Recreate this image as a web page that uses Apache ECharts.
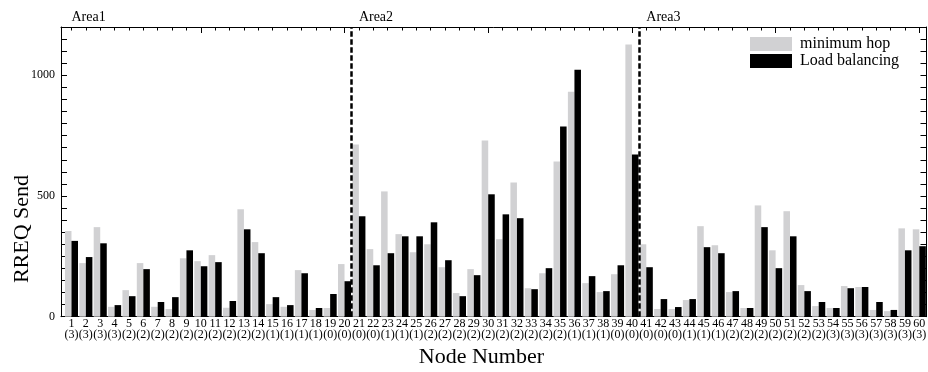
<!DOCTYPE html>
<html>
<head>
<meta charset="utf-8">
<script src="https://cdn.jsdelivr.net/npm/echarts@6/dist/echarts.min.js"></script>
<style>
html,body{margin:0;padding:0;background:#fff;}
#c{width:928px;height:372px;}
</style>
</head>
<body>
<div id="c"></div>
<script>
const nodes = ['1','2','3','4','5','6','7','8','9','10','11','12','13','14','15','16','17','18','19','20',
  '21','22','23','24','25','26','27','28','29','30','31','32','33','34','35','36','37','38','39','40',
  '41','42','43','44','45','46','47','48','49','50','51','52','53','54','55','56','57','58','59','60'];
const hops = [3,3,3,3,2,2,2,2,2,2,2,2,2,2,1,1,1,1,0,0,
  0,0,1,1,1,2,2,2,2,2,2,2,2,2,2,1,1,1,0,0,
  0,0,0,1,1,1,2,2,2,2,2,2,2,3,3,3,3,3,3,3];
const minimumHop = [355,222,371,41,110,222,41,32,242,230,255,37,445,309,52,41,193,28,36,218,
  713,280,519,342,267,300,205,98,197,730,321,556,118,180,643,932,139,102,176,1127,
  300,32,32,69,375,296,102,36,461,275,437,131,44,36,127,123,28,23,366,362];
const loadBalancing = [314,247,304,48,85,197,61,81,275,209,226,65,362,263,81,48,180,36,94,147,
  416,213,263,333,333,391,234,85,172,507,424,408,114,201,788,1023,168,106,213,672,
  205,73,40,73,288,263,106,36,371,201,333,106,61,36,118,123,61,28,275,292];
const areaNames = ['Area1','Area2','Area3'];
const areaStartNode = [1,21,41];
const areaDividers = [20.5,40.5];
const yTickLabels = [0,500,1000];

const FONT = '"Liberation Serif", "Times New Roman", serif';
const W = 928;
const GL = 64.3, GR = 1.5, GT = 27, GB = 55.3;
const FRAME_L = 61;
const N = nodes.length;
const catW = (W - GL - GR) / N;
// grid whose value x-axis puts node k at the centre of category k
const cL = GL + catW / 2, cR = GR + catW / 2;
// grid for the long ticks (every 10th node)
const tL = GL + catW * 9.5;

const chart = echarts.init(document.getElementById('c'), null, {renderer:'canvas'});
const axisLine = {show:true, onZero:false, lineStyle:{color:'#000', width:1}};
const noLine = {show:false, onZero:false};
const hidden = {show:false};

chart.setOption({
  animation:false,
  backgroundColor:'#fff',
  grid:[
    {left:GL, right:GR, top:GT, bottom:GB, outerBoundsMode:'none', containLabel:false},
    {left:cL, right:cR, top:GT, bottom:GB, outerBoundsMode:'none', containLabel:false},
    {left:tL, right:cR, top:GT, bottom:GB, outerBoundsMode:'none', containLabel:false},
    {left:FRAME_L, right:GR, top:GT, bottom:GB, outerBoundsMode:'none', containLabel:false}
  ],
  legend:{
    orient:'vertical', left:745, top:31,
    itemWidth:42, itemHeight:14, itemGap:1,
    icon:'rect',
    data:['minimum hop','Load balancing'],
    textStyle:{fontFamily:FONT, fontSize:16, color:'#000', padding:[0,0,0,3]}
  },
  xAxis:[
    {type:'category', data:nodes, position:'bottom', gridIndex:0,
     axisLine:noLine, axisTick:{show:false},
     axisLabel:{interval:0, margin:2, fontFamily:FONT, fontSize:12, lineHeight:11, color:'#000',
       formatter:(v, i) => v + '\n(' + hops[i] + ')'},
     name:'Node Number', nameLocation:'middle', nameGap:30,
     nameTextStyle:{fontFamily:FONT, fontSize:22, color:'#000', padding:[0,28,0,0]}},
    {type:'value', min:0, max:1, position:'top', gridIndex:3,
     axisLine:axisLine, axisTick:hidden, axisLabel:hidden, splitLine:hidden},
    {type:'value', min:1, max:N, interval:1, position:'top', gridIndex:1,
     axisLine:noLine, splitLine:hidden,
     axisTick:{show:true, inside:true, length:3.5, lineStyle:{color:'#000'}},
     axisLabel:{show:true, margin:3, align:'left', fontFamily:FONT, fontSize:14, color:'#000',
       showMinLabel:true, showMaxLabel:true,
       formatter:(v) => { const k = areaStartNode.indexOf(v); return k >= 0 ? areaNames[k] : ''; }}},
    {type:'value', min:10, max:N, interval:10, position:'top', gridIndex:2,
     axisLine:noLine, splitLine:hidden, axisLabel:hidden,
     axisTick:{show:true, inside:true, length:6, lineStyle:{color:'#000'}}},
    {type:'value', min:0, max:1, position:'bottom', gridIndex:3,
     axisLine:axisLine, axisTick:hidden, axisLabel:hidden, splitLine:hidden}
  ],
  yAxis:[
    {type:'value', min:0, max:1200, interval:50, offset:GL - FRAME_L, position:'left', gridIndex:0,
     axisLine:axisLine, splitLine:hidden,
     axisTick:{show:true, inside:true, length:6, lineStyle:{color:'#000'}},
     axisLabel:{margin:6, fontFamily:FONT, fontSize:12, color:'#000',
       formatter:(v) => yTickLabels.indexOf(v) >= 0 ? String(v) : ''}},
    {type:'value', min:0, max:1200, interval:50, position:'right', gridIndex:0,
     axisLine:axisLine, splitLine:hidden,
     axisTick:{show:true, inside:true, length:6, lineStyle:{color:'#000'}},
     axisLabel:hidden},
    {type:'value', min:0, max:1200, gridIndex:1, show:false},
    {type:'value', min:0, max:1200, gridIndex:2, show:false},
    {type:'value', min:0, max:1, gridIndex:3, show:false}
  ],
  graphic:[
    {type:'text', x:22, y:229, rotation:Math.PI/2,
     style:{text:'RREQ Send', font:'22px ' + FONT, fill:'#000', textAlign:'center', textVerticalAlign:'middle'}}
  ],
  series:[
    {name:'minimum hop', type:'bar', xAxisIndex:0, yAxisIndex:0, data:minimumHop,
     barGap:'0%', barCategoryGap:'9%', itemStyle:{color:'#d1d1d3'}},
    {name:'Load balancing', type:'bar', xAxisIndex:0, yAxisIndex:0, data:loadBalancing,
     barGap:'0%', barCategoryGap:'9%', itemStyle:{color:'#000'}},
    {name:'dividers', type:'line', xAxisIndex:2, yAxisIndex:2, data:[], symbol:'none',
     markLine:{silent:true, symbol:['none','none'], label:{show:false},
       lineStyle:{color:'#000', width:2.5, type:[5.5,2.5]},
       data:areaDividers.map(v => ({xAxis:v}))}}
  ]
});
</script>
</body>
</html>
